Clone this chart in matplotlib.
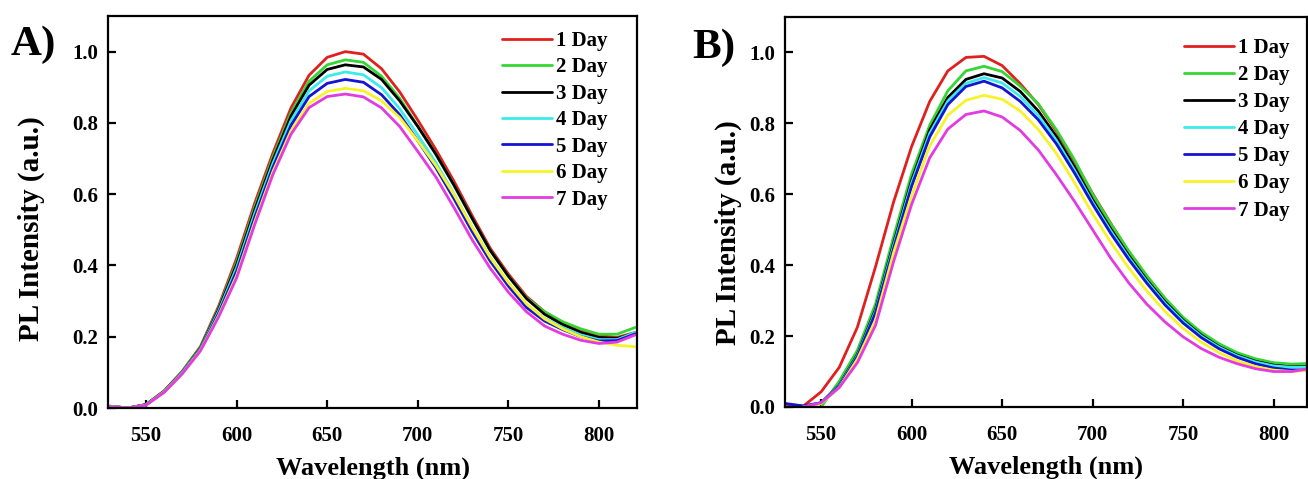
import numpy as np
import matplotlib
matplotlib.use("Agg")
import matplotlib.pyplot as plt

plt.rcParams['font.family'] = ['Liberation Serif', 'DejaVu Serif']
plt.rcParams['font.weight'] = 'bold'
plt.rcParams['axes.labelweight'] = 'bold'

nan = np.nan

# wavelength grid (nm), shared by both panels
wl = np.arange(530, 821, 10)

labels = ['1 Day', '2 Day', '3 Day', '4 Day', '5 Day', '6 Day', '7 Day']
colors = ['#e0201e', '#33d633', '#000000', '#3ceaea', '#1414d2', '#f7f32a', '#e23be2']

# panel A, PL intensity (a.u.)
A_day1 = [0.005, 0.000, 0.010, 0.048, 0.103, 0.172, 0.285, 0.420, 0.575, 0.715, 0.842, 0.934, 0.984, 1.000, 0.993,
          0.952, 0.887, 0.808, 0.725, 0.636, 0.540, 0.448, 0.376, 0.313, 0.270, 0.240, 0.218, 0.203, 0.198, 0.212]
A_day2 = [0.005, 0.000, 0.010, 0.047, 0.102, 0.170, 0.279, 0.410, 0.564, 0.704, 0.828, 0.917, 0.963, 0.977, 0.970,
          0.931, 0.869, 0.791, 0.712, 0.625, 0.532, 0.442, 0.370, 0.309, 0.270, 0.242, 0.222, 0.207, 0.207, 0.226]
A_day3 = [0.005, 0.000, 0.009, 0.047, 0.101, 0.168, 0.276, 0.403, 0.556, 0.696, 0.819, 0.906, 0.950, 0.963, 0.957,
          0.922, 0.862, 0.790, 0.712, 0.625, 0.532, 0.442, 0.370, 0.307, 0.263, 0.234, 0.212, 0.198, 0.195, 0.210]
A_day4 = [0.005, 0.000, 0.009, 0.046, 0.100, 0.166, 0.271, 0.394, 0.546, 0.686, 0.806, 0.890, 0.931, 0.943, 0.935,
          0.899, 0.840, 0.766, 0.688, 0.600, 0.507, 0.422, 0.351, 0.290, 0.251, 0.226, 0.205, 0.192, 0.192, 0.212]
A_day5 = [0.004, 0.000, 0.009, 0.045, 0.098, 0.164, 0.265, 0.384, 0.535, 0.675, 0.793, 0.874, 0.911, 0.922, 0.914,
          0.879, 0.823, 0.750, 0.674, 0.587, 0.495, 0.412, 0.342, 0.282, 0.244, 0.220, 0.200, 0.188, 0.189, 0.208]
A_day6 = [0.004, 0.000, 0.008, 0.045, 0.097, 0.162, 0.259, 0.372, 0.523, 0.663, 0.778, 0.855, 0.888, 0.897, 0.890,
          0.862, 0.815, 0.750, 0.680, 0.598, 0.507, 0.422, 0.352, 0.292, 0.250, 0.222, 0.200, 0.185, 0.176, 0.172]
A_day7 = [0.004, 0.000, 0.008, 0.044, 0.096, 0.160, 0.255, 0.365, 0.515, 0.655, 0.768, 0.843, 0.874, 0.881, 0.873,
          0.842, 0.790, 0.720, 0.648, 0.562, 0.472, 0.392, 0.325, 0.270, 0.230, 0.207, 0.190, 0.181, 0.185, 0.205]

# panel B, PL intensity (a.u.)
B_day1 = [0.008, 0.002, 0.043, 0.112, 0.225, 0.395, 0.578, 0.735, 0.862, 0.948, 0.986, 0.989, 0.963, 0.912, 0.853,
          0.778, 0.692, 0.602, 0.518, 0.438, 0.368, 0.304, 0.250, 0.208, 0.176, 0.151, 0.134, 0.123, 0.117, 0.116]
B_day2 = [nan, nan, 0.000, 0.073, 0.160, 0.290, 0.480, 0.658, 0.795, 0.892, 0.948, 0.961, 0.946, 0.905, 0.855,
          0.782, 0.697, 0.600, 0.517, 0.440, 0.370, 0.307, 0.253, 0.211, 0.178, 0.153, 0.136, 0.125, 0.121, 0.123]
B_day3 = [nan, 0.000, 0.012, 0.062, 0.148, 0.275, 0.462, 0.640, 0.782, 0.873, 0.924, 0.940, 0.928, 0.890, 0.835,
          0.763, 0.677, 0.585, 0.503, 0.427, 0.358, 0.297, 0.245, 0.203, 0.170, 0.146, 0.129, 0.118, 0.113, 0.115]
B_day4 = [nan, 0.000, 0.012, 0.060, 0.145, 0.270, 0.455, 0.632, 0.772, 0.863, 0.913, 0.929, 0.914, 0.876, 0.822,
          0.752, 0.668, 0.578, 0.497, 0.422, 0.354, 0.293, 0.242, 0.200, 0.168, 0.144, 0.127, 0.116, 0.112, 0.113]
B_day5 = [0.010, 0.003, 0.012, 0.058, 0.142, 0.265, 0.447, 0.623, 0.762, 0.853, 0.904, 0.919, 0.900, 0.862, 0.810,
          0.742, 0.660, 0.572, 0.490, 0.416, 0.349, 0.288, 0.237, 0.196, 0.164, 0.140, 0.122, 0.110, 0.104, 0.105]
B_day6 = [nan, 0.000, 0.010, 0.055, 0.135, 0.245, 0.435, 0.597, 0.737, 0.823, 0.865, 0.879, 0.868, 0.835, 0.783,
          0.715, 0.633, 0.545, 0.465, 0.392, 0.327, 0.270, 0.222, 0.183, 0.153, 0.130, 0.114, 0.104, 0.100, 0.104]
B_day7 = [nan, 0.000, 0.012, 0.055, 0.125, 0.230, 0.410, 0.572, 0.703, 0.784, 0.825, 0.835, 0.818, 0.780, 0.725,
          0.655, 0.580, 0.500, 0.420, 0.350, 0.290, 0.240, 0.198, 0.165, 0.140, 0.122, 0.108, 0.100, 0.100, 0.108]

panelA = [A_day1, A_day2, A_day3, A_day4, A_day5, A_day6, A_day7]
panelB = [B_day1, B_day2, B_day3, B_day4, B_day5, B_day6, B_day7]

fig = plt.figure(figsize=(13.08, 4.79), dpi=100)
W, H = 1308.0, 479.0
axA = fig.add_axes([108 / W, (H - 408) / H, 529 / W, 392 / H])
axB = fig.add_axes([785 / W, (H - 407) / H, 522 / W, 390 / H])


def draw(ax, series, xlim, tag, tag_xy, leg_xy, leg_sp, ylab_xy):
    for vals, c, lab in zip(series, colors, labels):
        ax.plot(wl, np.array(vals, dtype=float), color=c, lw=2.0, label=lab,
                solid_joinstyle='round', solid_capstyle='round')
    ax.set_xlim(*xlim)
    ax.set_ylim(0, 1.1)
    ax.set_xticks([550, 600, 650, 700, 750, 800])
    ax.set_yticks([0.0, 0.2, 0.4, 0.6, 0.8, 1.0])
    ax.set_yticklabels(['0.0', '0.2', '0.4', '0.6', '0.8', '1.0'])
    ax.tick_params(direction='in', length=6, width=1.6, labelsize=15)
    ax.tick_params(axis='x', pad=13)
    ax.tick_params(axis='y', pad=7)
    for s in ax.spines.values():
        s.set_linewidth(1.6)
    ax.set_xlabel('Wavelength (nm)', fontsize=19)
    ax.set_ylabel('PL Intensity (a.u.)', fontsize=21)
    ax.xaxis.set_label_coords(0.5, -0.125)
    ax.yaxis.set_label_coords(ylab_xy[0], ylab_xy[1])
    ax.legend(loc='upper left', bbox_to_anchor=leg_xy, frameon=False, fontsize=15,
              handlelength=2.4, handletextpad=0.2, labelspacing=leg_sp,
              borderpad=0, borderaxespad=0)
    fig.text(tag_xy[0], tag_xy[1], tag, fontsize=31, fontweight='bold', va='center', ha='left')


draw(axA, panelA, (529, 821), 'A)', (11 / W, 1 - 45 / H), (0.745, 0.962), 0.31, (-0.12, 0.457))
draw(axB, panelB, (530, 818.5), 'B)', (692 / W, 1 - 48 / H), (0.764, 0.946), 0.34, (-0.083, 0.446))

fig.savefig('out.png', dpi=100)
